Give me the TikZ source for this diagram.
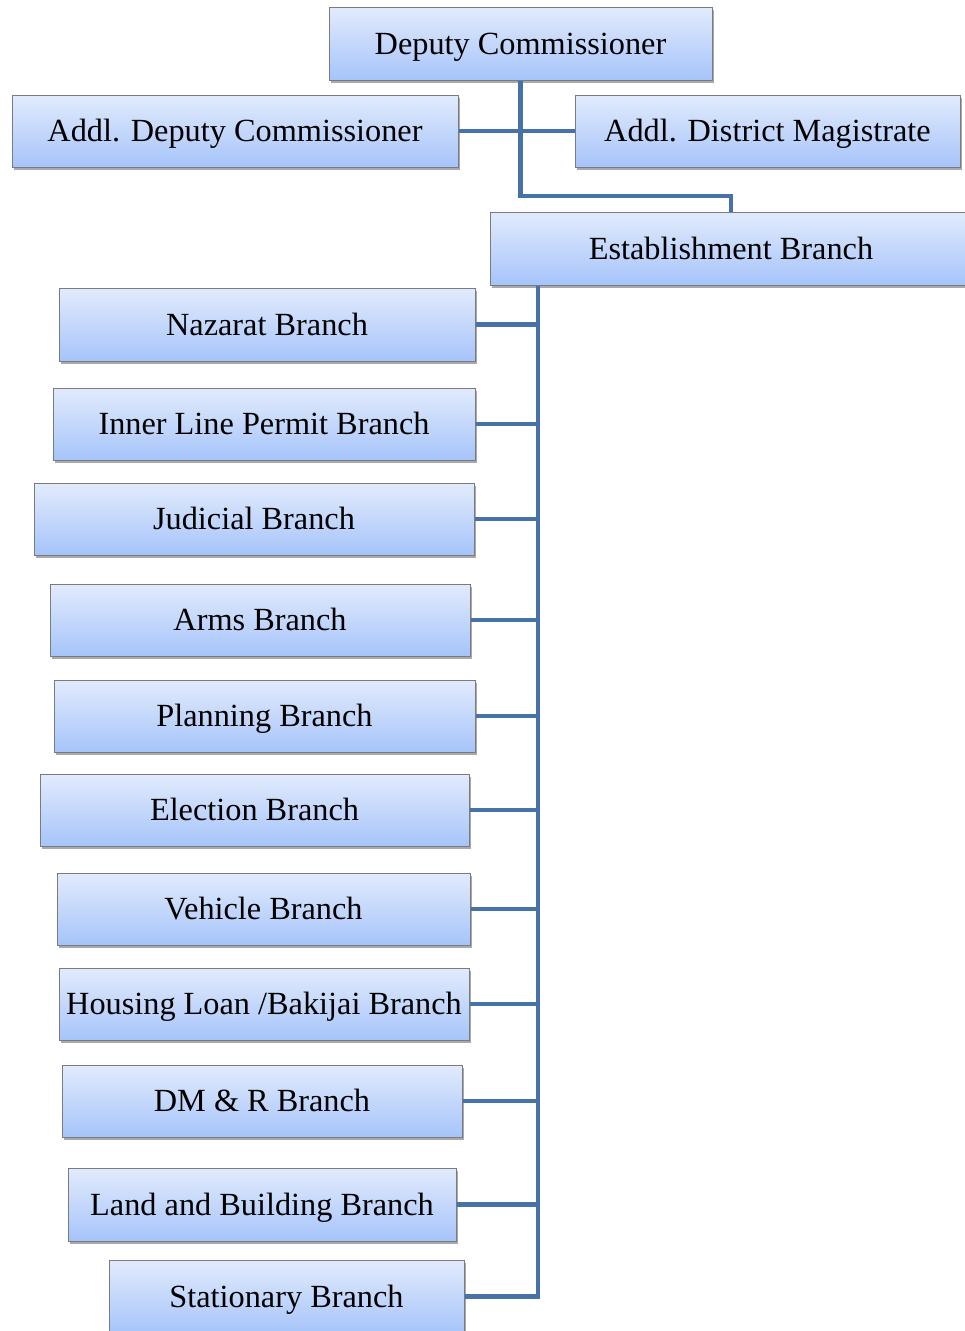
\documentclass[tikz,border=0pt]{standalone}
\usepackage{fontspec}
\setmainfont{Liberation Serif}
\usetikzlibrary{shadows}
\definecolor{boxtop}{RGB}{226,235,252}
\definecolor{boxbot}{RGB}{166,196,250}
\definecolor{boxline}{RGB}{120,124,130}
\definecolor{conn}{RGB}{70,114,168}
\tikzset{
  box/.style={draw=boxline, line width=1pt, top color=boxtop, bottom color=boxbot,
    inner sep=0pt, minimum height=73pt, text height=28pt, text depth=7pt,
    font=\fontsize{32.3}{36}\selectfont,
    drop shadow={shadow xshift=1.5pt, shadow yshift=-3pt, opacity=0.45, fill=black!75}},
  link/.style={draw=conn, line width=4.6pt}
}
\begin{document}
\begin{tikzpicture}[x=1pt,y=-1pt]
\useasboundingbox (0,0) rectangle (965,1331);
\coordinate (trunk) at (538,0);
\coordinate (elbow) at (0,196);
% nodes
\node[box, minimum width=383pt] (dc) at (520.5,43.5) {Deputy Commissioner};
\node[box, minimum width=446pt, minimum height=72pt] (adc) at (235,131) {Addl. Deputy Commissioner};
\node[box, minimum width=385pt, minimum height=72pt] (adm) at (767.5,131) {Addl. District Magistrate};
\node[box, minimum width=482pt] (est) at (731,248.5) {Establishment Branch};
\node[box, minimum width=416pt] (naz) at (267,324.5) {Nazarat Branch};
\node[box, minimum width=422pt, minimum height=72pt] (ilp) at (264,424) {Inner Line Permit Branch};
\node[box, minimum width=440pt, minimum height=72pt] (jud) at (254,519) {Judicial Branch};
\node[box, minimum width=420pt, minimum height=72pt] (arms) at (260,620) {Arms Branch};
\node[box, minimum width=421pt, minimum height=72pt] (plan) at (264.5,716) {Planning Branch};
\node[box, minimum width=429pt, minimum height=72pt] (elec) at (254.5,810) {Election Branch};
\node[box, minimum width=413pt, minimum height=72pt] (veh) at (263.5,909) {Vehicle Branch};
\node[box, minimum width=410pt, minimum height=72pt] (hous) at (264,1004) {Housing Loan /Bakijai Branch};
\node[box, minimum width=400pt, minimum height=72pt] (dmr) at (262,1101) {DM \& R Branch};
\node[box, minimum width=388pt] (land) at (262,1204.5) {Land and Building Branch};
\node[box, minimum width=355pt] (stat) at (286.5,1296.5) {Stationary Branch};
% connectors
\draw[link] (adc.east) -- (adm.west);
\draw[link] (dc.south) -- (dc.south |- elbow) -| (est.north);
\draw[link] (est.south -| trunk) |- (stat.east);
\foreach \n in {naz,ilp,jud,arms,plan,elec,veh,hous,dmr,land}
  \draw[link] (\n.east) -- (\n.east -| trunk);
\end{tikzpicture}
\end{document}
